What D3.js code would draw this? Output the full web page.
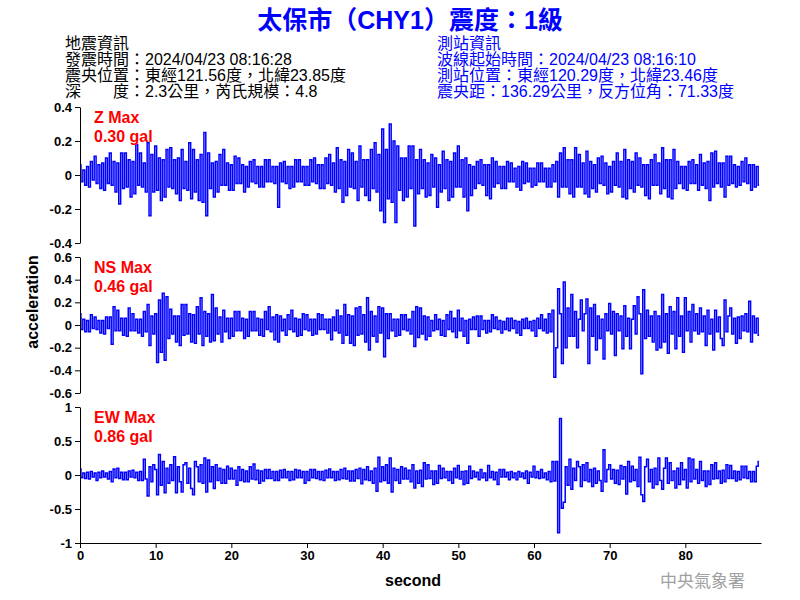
<!DOCTYPE html>
<html>
<head>
<meta charset="utf-8">
<script src="https://cdn.jsdelivr.net/npm/d3@7"></script>
<style>
body { margin: 0; background: #fff; }
text { font-family: "Liberation Sans", Arial, "Noto Sans CJK TC", sans-serif; }
</style>
</head>
<body>
<script>
"use strict";

var titleText = "太保市（CHY1）震度：1級";
var quakeInfo = ["地震資訊", "發震時間：2024/04/23 08:16:28", "震央位置：東經121.56度，北緯23.85度", "深　　度：2.3公里，芮氏規模：4.8"];
var stationInfo = ["測站資訊", "波線起始時間：2024/04/23 08:16:10", "測站位置：東經120.29度，北緯23.46度", "震央距：136.29公里，反方位角：71.33度"];

var channelNames = ["Z Max", "NS Max", "EW Max"];
var channelPeaks = ["0.30 gal", "0.46 gal", "0.86 gal"];

// seconds between samples
var sampleStep = 0.25;
var timeRange = [0, 90];
var xTicks = [0, 10, 20, 30, 40, 50, 60, 70, 80];

var zTicks = [-0.4, -0.2, 0, 0.2, 0.4];
var nsTicks = [-0.6, -0.4, -0.2, 0, 0.2, 0.4, 0.6];
var ewTicks = [-1, -0.5, 0, 0.5, 1];

var zAcc = [
 .06,-.04,.03,-.06, .05,-.07,.08,-.03, .11,-.05,.06,-.08, .07,-.09,.10,-.05, .13,-.06,.08,-.10,
 .07,-.17,.13,-.08, .13,-.07,.09,-.13, .08,-.11,.18,-.06, .13,-.07,.07,-.10, .19,-.24,.12,-.10,
 .17,-.09,.10,-.15, .09,-.13,.15,-.07, .16,-.08,.09,-.11, .10,-.15,.15,-.08, .08,-.09,.19,-.14,
 .15,-.10,.09,-.15, .12,-.16,.25,-.24, .13,-.08,.07,-.13, .08,-.10,.12,-.06, .15,-.06,.07,-.09,
 .06,-.09,.11,-.05, .10,-.05,.06,-.10, .05,-.07,.08,-.04, .09,-.05,.05,-.07, .05,-.07,.09,-.04,
 .09,-.04,.05,-.05, .05,-.19,.07,-.04, .08,-.05,.05,-.08, .05,-.07,.09,-.04, .09,-.04,.05,-.06,
 .05,-.06,.09,-.04, .10,-.05,.06,-.08, .06,-.08,.10,-.05, .12,-.06,.07,-.10, .16,-.08,.09,-.16,
 .08,-.12,.15,-.07, .13,-.08,.08,-.15, .17,-.07,.09,-.12, .09,-.15,.15,-.08, .19,-.10,.12,-.21,
 .27,-.28,.15,-.14, .30,-.16,.20,-.28, .17,-.09,.10,-.15, .10,-.13,.17,-.08, .17,-.30,.09,-.11,
 .15,-.08,.09,-.13, .07,-.12,.12,-.07, .10,-.19,.06,-.10, .14,-.08,.09,-.15, .08,-.13,.13,-.07,
 .17,-.07,.09,-.13, .10,-.21,.06,-.12, .05,-.08,.08,-.05, .09,-.06,.06,-.12, .06,-.14,.10,-.07,
 .08,-.05,.05,-.08, .05,-.08,.08,-.04, .07,-.04,.04,-.07, .05,-.09,.08,-.05, .07,-.04,.04,-.07,
 .04,-.06,.07,-.04, .07,-.04,.04,-.07, .04,-.07,.06,-.04, .08,-.13,.13,-.07, .16,-.07,.09,-.11,
 .09,-.13,.16,-.07, .12,-.07,.07,-.11, .14,-.13,.08,-.08, .06,-.10,.10,-.05, .11,-.06,.07,-.11,
 .05,-.10,.08,-.06, .13,-.07,.08,-.13, .15,-.14,.09,-.08, .08,-.10,.13,-.06, .10,-.07,.06,-.12,
 .06,-.14,.09,-.06, .12,-.06,.07,-.11, .16,-.08,.09,-.13, .09,-.14,.15,-.08, .08,-.05,.05,-.08,
 .05,-.09,.08,-.05, .09,-.05,.06,-.09, .12,-.06,.07,-.08, .08,-.15,.13,-.07, .14,-.05,.07,-.07,
 .07,-.13,.11,-.06, .11,-.05,.06,-.07, .05,-.06,.08,-.04, .10,-.05,.06,-.09, .06,-.07,.05,-.06
];

var nsAcc = [
 .10,-.04,.05,-.06, .04,-.06,.09,-.03, .07,-.04,.04,-.07, .04,-.08,.07,-.03, .07,-.17,.16,-.05,
 .13,-.05,.06,-.09, .06,-.10,.15,-.05, .10,-.05,.05,-.07, .05,-.10,.12,-.06, .18,-.18,.08,-.08,
 .10,-.33,.22,-.24, .28,-.31,.25,-.12, .14,-.08,.08,-.15, .08,-.18,.18,-.09, .18,-.08,.10,-.15,
 .09,-.16,.16,-.08, .24,-.18,.12,-.10, .10,-.15,.27,-.14, .15,-.08,.07,-.15, .13,-.06,.06,-.12,
 .06,-.10,.12,-.05, .12,-.05,.06,-.12, .05,-.10,.12,-.05, .12,-.05,.06,-.09, .05,-.10,.12,-.04,
 .16,-.06,.07,-.13, .09,-.15,.08,-.05, .05,-.09,.09,-.04, .13,-.06,.06,-.10, .05,-.09,.10,-.04,
 .09,-.05,.05,-.09, .05,-.08,.10,-.04, .09,-.04,.05,-.07, .05,-.13,.07,-.05, .13,-.07,.08,-.16,
 .18,-.09,.09,-.16, .08,-.18,.15,-.09, .16,-.08,.09,-.15, .24,-.22,.12,-.10, .08,-.15,.16,-.07,
 .15,-.28,.10,-.12, .10,-.05,.05,-.10, .05,-.09,.09,-.04, .09,-.05,.05,-.08, .12,-.19,.16,-.11,
 .15,-.08,.08,-.13, .07,-.10,.04,-.05, .09,-.04,.05,-.09, .04,-.10,.09,-.04, .12,-.06,.06,-.11,
 .13,-.05,.06,-.10, .04,-.16,.05,-.04, .07,-.04,.08,-.10, .08,-.04,.04,-.07, .04,-.06,.09,-.03,
 .07,-.04,.04,-.07, .03,-.04,.06,-.05, .06,-.03,.04,-.07, .03,-.09,.05,-.03, .06,-.03,.03,-.05,
 .04,-.10,.06,-.03, .09,-.05,.05,-.07, .10,-.06,.13,-.46, -.20,.32,.10,-.34, .38,-.20,.15,-.10,
 .27,-.10,.12,-.20, .05,.22,-.05,.10, .23,-.34,.15,-.10, .18,-.22,.08,-.12, .05,-.30,.10,-.05,
 .19,-.08,.12,-.27, .10,-.05,.08,-.21, .17,-.10,.06,-.21, .05,.17,-.08,.25, .10,-.43,.31,-.12,
 .13,-.10,.08,-.15, .12,-.22,.08,-.20, .27,-.15,.10,-.25, .16,-.08,.12,-.21, .24,-.10,.08,-.24,
 .24,-.05,.12,-.15, .18,-.05,.10,-.08, .15,-.06,.08,-.18, .13,-.08,.05,-.22, .13,-.06,.07,-.12,
 -.18,.22,-.06,.08, .15,-.08,.06,-.16, .07,-.12,.08,-.05, .10,-.06,.21,-.15, .08,-.07,.06,-.09
];

var ewAcc = [
 .09,-.04,.03,-.05, .04,-.06,.05,-.03, .03,-.08,.04,-.04, .06,-.03,.03,-.06, .05,-.10,.09,-.04,
 .10,-.05,.04,-.07, .04,-.07,.06,-.03, .07,-.04,.04,-.08, .05,-.08,.23,-.06, -.31,.12,-.10,.15,
 .08,-.29,.30,-.15, .20,-.26,.10,-.12, .15,-.08,.27,-.26, .12,-.10,-.25,.15, .18,-.12,.10,-.20,
 -.29,.20,.12,-.10, .15,-.12,.25,-.25, .22,-.10,.12,-.20, .15,-.08,.10,-.12, .08,-.12,.13,-.06,
 .10,-.06,.07,-.15, .12,-.08,.08,-.10, .06,-.10,.12,-.06, .16,-.07,.07,-.12, .06,-.09,.08,-.05,
 .08,-.05,.05,-.08, .05,-.08,.07,-.04, .08,-.04,.05,-.08, .05,-.07,.08,-.04, .07,-.04,.05,-.12,
 .05,-.08,.08,-.04, .08,-.05,.05,-.07, .05,-.08,.07,-.04, .09,-.04,.05,-.08, .05,-.07,.08,-.05,
 .10,-.06,.06,-.09, .06,-.09,.08,-.05, .10,-.13,.08,-.07, .12,-.08,.06,-.12, .10,-.24,.26,-.10,
 .12,-.08,.15,-.12, .25,-.25,.10,-.08, .08,-.12,.12,-.06, .10,-.06,.07,-.10, .15,-.19,.06,-.12,
 .07,-.17,.18,-.06, .15,-.05,.06,-.14, .06,-.12,.14,-.05, .10,-.04,.05,-.08, .05,-.12,.10,-.04,
 .14,-.06,.05,-.14, .06,-.12,.13,-.05, .06,-.03,.04,-.07, .08,-.04,.03,-.08, .14,-.04,.05,-.07,
 .04,-.14,.08,-.03, .08,-.03,.04,-.07, .05,-.04,.03,-.07, .05,-.03,.03,-.05, .06,-.12,.04,-.03,
 .13,-.04,.05,-.05, .08,-.04,.03,-.07, .05,-.10,.20,-.09, .20,-.85,.83,-.49, -.40,.12,-.15,.23,
 -.21,.10,-.08,.20, .12,-.17,.15,-.08, .18,-.10,.08,-.17, .10,-.12,.06,-.08, -.24,.37,-.10,.08,
 .15,-.06,.08,-.12, .07,-.14,.14,-.06, .12,-.28,.20,-.10, .13,-.08,.08,-.17, .26,-.29,-.39,.12,
 .23,-.10,.08,-.19, .10,-.14,.25,-.08, -.21,.10,.25,-.12, .18,-.08,.06,-.19, .10,-.14,.18,-.07,
 .08,-.19,.25,-.10, .23,-.06,.08,-.12, .20,-.08,.06,-.17, .06,-.14,.15,-.06, .18,-.05,.06,-.12,
 .07,-.10,.15,-.05, .14,-.05,.06,-.09, .05,-.07,.13,-.04, .13,-.05,.05,-.10, .05,-.10,.13,.20
];

var svg = d3.select("body").append("svg").attr("width", 800).attr("height", 600);

svg.append("text").attr("x", 410).attr("y", 29).attr("text-anchor", "middle")
    .attr("fill", "#0000ff").attr("font-size", "25px").attr("font-weight", "bold")
    .text(titleText);

var infoLeft = svg.append("g").attr("font-size", "16px").attr("fill", "#000");
quakeInfo.forEach(function(s, i){
    infoLeft.append("text").attr("x", 65).attr("y", 49 + i * 16).text(s);
});
var infoRight = svg.append("g").attr("font-size", "16px").attr("fill", "#0000ff");
stationInfo.forEach(function(s, i){
    infoRight.append("text").attr("x", 437).attr("y", 49 + i * 16).text(s);
});

var x = d3.scaleLinear().domain(timeRange).range([80, 761]);

var panels = [
    {data: zAcc, ticks: zTicks, top: 107, bottom: 243},
    {data: nsAcc, ticks: nsTicks, top: 257, bottom: 393},
    {data: ewAcc, ticks: ewTicks, top: 407, bottom: 543}
];

panels.forEach(function(p, k){
    var ext = d3.extent(p.ticks);
    var y = d3.scaleLinear().domain(ext).range([p.bottom, p.top]);

    // step curve gives the vertical strokes of a dense trace
    var line = d3.line()
        .curve(d3.curveStep)
        .x(function(d, i){ return x(i * sampleStep); })
        .y(function(d){ return y(d); });

    svg.append("path").datum(p.data)
        .attr("fill", "none").attr("stroke", "#0000ff").attr("stroke-width", 1.5)
        .attr("d", line);

    var yAxis = svg.append("g").attr("transform", "translate(80,0)")
        .call(d3.axisLeft(y).tickValues(p.ticks).tickSize(5).tickSizeOuter(0).tickPadding(3)
            .tickFormat(function(d){ return String(d); }));
    yAxis.selectAll("text").attr("font-size", "13px").attr("font-weight", "bold").attr("fill", "#000")
        .attr("font-family", "'Liberation Sans', Arial, sans-serif");
    yAxis.selectAll("path,line").attr("stroke", "#000");

    svg.append("text").attr("x", 94).attr("y", p.top + 16)
        .attr("fill", "#ff0000").attr("font-size", "16px").attr("font-weight", "bold")
        .text(channelNames[k]);
    svg.append("text").attr("x", 94).attr("y", p.top + 35)
        .attr("fill", "#ff0000").attr("font-size", "16px").attr("font-weight", "bold")
        .text(channelPeaks[k]);
});

var xAxis = svg.append("g").attr("transform", "translate(0,543)")
    .call(d3.axisBottom(x).tickValues(xTicks).tickSize(5).tickSizeOuter(0).tickPadding(3));
xAxis.selectAll("text").attr("font-size", "13px").attr("font-weight", "bold").attr("fill", "#000")
    .attr("font-family", "'Liberation Sans', Arial, sans-serif");
xAxis.selectAll("path,line").attr("stroke", "#000");

svg.append("text").attr("x", 413).attr("y", 586).attr("text-anchor", "middle")
    .attr("font-size", "16px").attr("font-weight", "bold").text("second");

svg.append("text").attr("transform", "translate(38,302) rotate(-90)").attr("text-anchor", "middle")
    .attr("font-size", "16px").attr("font-weight", "bold").text("acceleration");

svg.append("text").attr("x", 745).attr("y", 587).attr("text-anchor", "end")
    .attr("font-family", "'Noto Sans CJK TC', sans-serif")
    .attr("font-size", "17px").attr("fill", "#a0a0a0").text("中央氣象署");
</script>
</body>
</html>
